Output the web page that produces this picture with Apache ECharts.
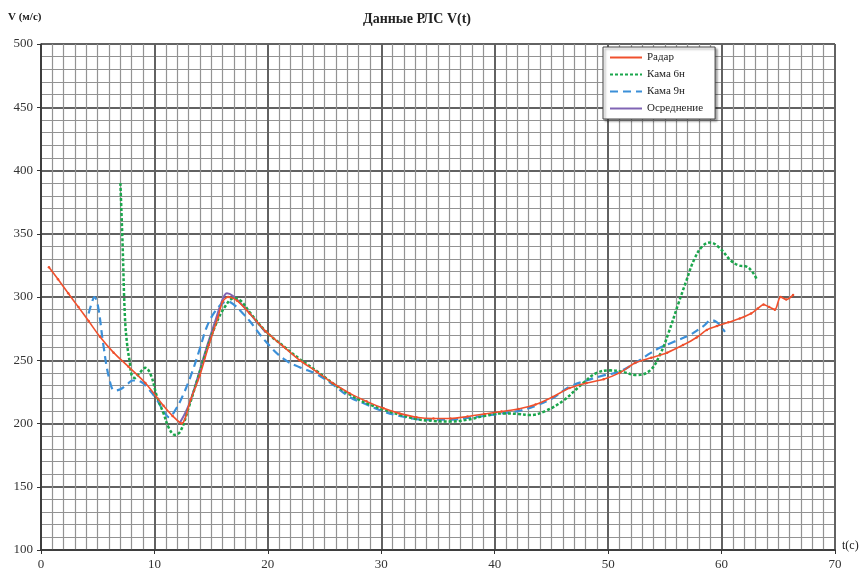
<!DOCTYPE html>
<html><head><meta charset="utf-8">
<script src="https://cdn.jsdelivr.net/npm/echarts@6/dist/echarts.min.js"></script>
<style>html,body{margin:0;padding:0;background:#fff}#c{width:861px;height:583px}</style>
</head><body><div id="c"></div>
<script>
const xTicks = [0, 10, 20, 30, 40, 50, 60, 70];
const yTicks = [100, 150, 200, 250, 300, 350, 400, 450, 500];

const radarT = [0.7,1.5,2.4,3.3,4.2,5.2,6.4,7.7,9.2,10.8,11.6,12.4,13.2,14.0,14.8,15.6,16.0,16.5,17.3,18.4,19.8,21.4,22.8,24.3,25.7,27.2,28.7,30.2,31.6,33.1,34.6,36.1,37.6,39.1,40.6,42.1,43.6,45.1,46.6,48.1,49.6,51.0,52.4,53.8,55.2,56.6,57.8,58.7,59.6,60.6,61.6,62.6,63.2,63.7,64.2,64.7,65.2,65.7,66.3];
const radarV = [323.5,314,303,292,281,268.5,256,245,232,214,206,200,219,238,262,284,296,300,297,287,273,260.6,250,241,232,224,217.5,212,208,205,204,204,205.5,207.5,209.5,211.5,215,221,228,232,235,240,248,252,256,262,268,274,277,280,283,287,291,294,292,290,300,298,301.5];

const kama6T = [7.0,7.2,7.4,7.6,7.85,8.0,8.3,8.7,9.2,9.7,10.2,10.8,11.3,11.8,12.3,13.0,13.8,14.6,15.4,16.2,17.0,17.6,18.4,19.8,21.4,22.8,24.3,25.7,27.2,28.7,30.2,31.6,33.1,34.6,36.1,37.6,39.1,40.6,42.1,43.1,44.5,46.1,47.8,49.0,50.2,51.2,52.5,53.7,54.6,55.3,56.2,56.9,57.6,58.3,59.0,59.8,60.8,61.5,62.2,62.7,63.1];
const kama6V = [390,340,284,262,247,238,236,240,244,238,222,208,196,191,194,212,235,258,278,292,299,297,288,273,261,251,241.5,232,223,216,211,207,203.5,202,201.5,203,206,208,207.5,206.7,210,218.5,232,240,242,241,238.3,242,255,271,295,313,330,340,343,339,329,325,324,320,314];

const kama9T = [4.2,4.5,4.7,5.0,5.5,6.0,6.5,7.0,7.6,8.1,8.8,9.5,10.2,10.8,11.3,11.8,12.5,13.3,14.0,14.6,15.3,16.0,16.4,17.0,17.8,18.4,19.8,21.4,22.8,24.3,25.7,27.2,28.7,30.2,31.6,33.1,34.6,36.1,37.6,39.1,40.6,42.1,43.6,45.1,46.6,48.1,49.6,51.0,52.4,53.8,54.6,55.8,57.2,58.4,59.1,59.6,60.0,60.3];
const kama9V = [287,296,300,294,262,236,226,227,231,234,233,227,219,210,205,210,222,240,259,276,288,295,296.5,294,287,281,265,251,244.5,239,231,221,215,209.5,206,203.5,203,203,204.5,206,208,210,214,220,229,234,238,241,248,256,260,264.6,270,277,281.7,280,276,272.5];

const avgT = [12.2,13.0,13.8,14.6,15.4,16.0,16.4,16.9,17.6,18.4,19.8];
const avgV = [200,214,236,260,282,298,303,301,295,287,272];

const zip = (a, b) => a.map((t, i) => [t, b[i]]);
const serif = 'Liberation Serif';

const chart = echarts.init(document.getElementById('c'));
chart.setOption({
  animation: false,
  backgroundColor: '#fff',
  title: {
    text: 'Данные РЛС V(t)', left: 358, top: 7,
    textStyle: { fontFamily: serif, fontWeight: 'bold', fontSize: 14, color: '#222' }
  },
  graphic: [
    { type: 'text', left: 8, top: 12, style: { text: 'V (м/с)', font: 'bold 11px "Liberation Serif"', fill: '#222' } },
    { type: 'text', left: 842, top: 540, style: { text: 't(c)', font: '12px "Liberation Serif"', fill: '#222' } }
  ],
  legend: {
    orient: 'vertical', left: 603, top: 47,
    backgroundColor: '#fff', borderColor: '#444', borderWidth: 1,
    shadowColor: 'rgba(0,0,0,0.35)', shadowBlur: 2, shadowOffsetX: 2, shadowOffsetY: 2,
    padding: [5, 12, 5, 6], itemGap: 6, itemWidth: 32, itemHeight: 12,
    itemStyle: { opacity: 0 },
    textStyle: { fontFamily: serif, fontSize: 11, color: '#222' },
    data: ['Радар', 'Кама 6н', 'Кама 9н', 'Осреднение']
  },
  grid: { left: 41, right: 26, top: 44, bottom: 33 },
  xAxis: {
    type: 'value', min: 0, max: 70, interval: 10,
    axisLine: { show: true, onZero: false, lineStyle: { color: '#333', width: 1.5 } },
    axisTick: { show: true, length: 4, lineStyle: { color: '#333' } },
    axisLabel: { fontFamily: serif, fontSize: 13, color: '#333', margin: 8,
      formatter: v => xTicks.includes(v) ? String(v) : '' },
    splitLine: { show: true, lineStyle: { color: '#626262', width: 2 } },
    minorTick: { show: false, splitNumber: 10 },
    minorSplitLine: { show: true, lineStyle: { color: '#939393', width: 1.2 } }
  },
  yAxis: {
    type: 'value', min: 100, max: 500, interval: 50,
    axisLine: { show: true, onZero: false, lineStyle: { color: '#333', width: 1.5 } },
    axisTick: { show: true, length: 4, lineStyle: { color: '#333' } },
    axisLabel: { fontFamily: serif, fontSize: 13, color: '#333', margin: 8,
      formatter: v => yTicks.includes(v) ? String(v) : '' },
    splitLine: { show: true, lineStyle: { color: '#626262', width: 2 } },
    minorTick: { show: false, splitNumber: 5 },
    minorSplitLine: { show: true, lineStyle: { color: '#939393', width: 1.2 } }
  },
  series: [
    { name: 'Осреднение', type: 'line', data: zip(avgT, avgV), smooth: 0.4, symbol: 'none', z: 1,
      lineStyle: { color: '#8064b4', width: 2 }, itemStyle: { color: '#8064b4' } },
    { name: 'Радар', type: 'line', data: zip(radarT, radarV), smooth: 0.3, symbol: 'circle', symbolSize: 2.5, z: 4,
      lineStyle: { color: '#f0502d', width: 1.6 }, itemStyle: { color: '#f0502d' } },
    { name: 'Кама 6н', type: 'line', data: zip(kama6T, kama6V), smooth: 0.4, symbol: 'none', z: 3,
      lineStyle: { color: '#1ba64c', width: 2.5, type: [3, 2] }, itemStyle: { color: '#1ba64c' } },
    { name: 'Кама 9н', type: 'line', data: zip(kama9T, kama9V), smooth: 0.4, symbol: 'none', z: 2,
      lineStyle: { color: '#3b8fd8', width: 2.2, type: [8, 5] }, itemStyle: { color: '#3b8fd8' } }
  ]
});
</script></body></html>
